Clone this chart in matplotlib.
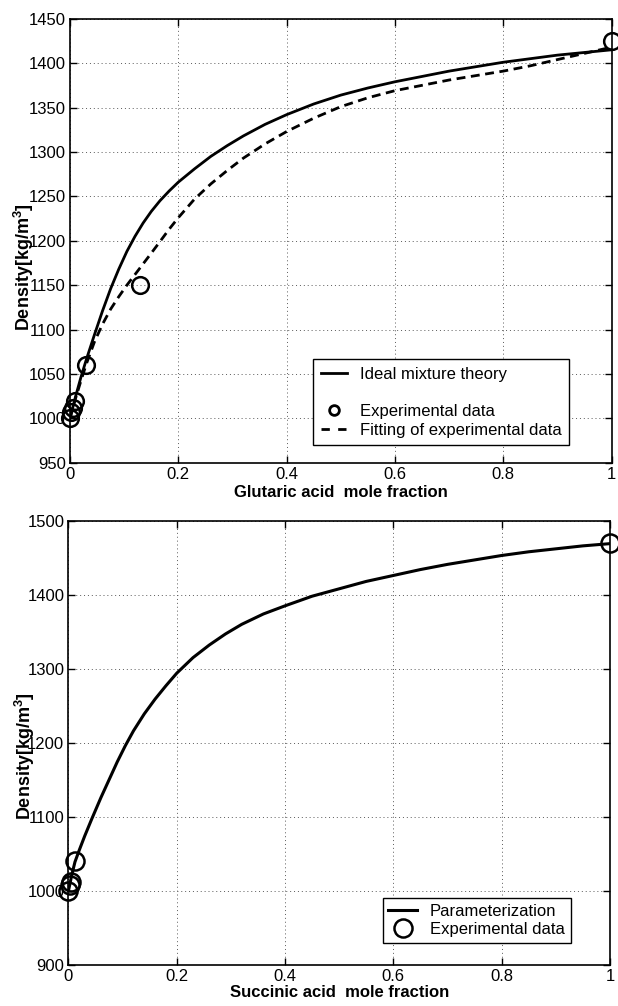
import matplotlib
matplotlib.use("Agg")
import matplotlib.pyplot as plt
from matplotlib.lines import Line2D

plt.rcParams['font.family'] = ['Liberation Sans', 'DejaVu Sans']
plt.rcParams['mathtext.fontset'] = 'custom'
plt.rcParams['mathtext.rm'] = 'Liberation Sans'
plt.rcParams['mathtext.bf'] = 'Liberation Sans:bold'

# --- Glutaric acid (top panel) ---
glut_x_ideal = [0, 0.01, 0.02, 0.03, 0.045, 0.06, 0.075, 0.09, 0.105, 0.12,
                0.135, 0.15, 0.166, 0.183, 0.2, 0.23, 0.26, 0.29, 0.32, 0.36,
                0.4, 0.45, 0.5, 0.55, 0.6, 0.65, 0.7, 0.75, 0.8, 0.85, 0.9,
                0.95, 1.0]
glut_rho_ideal = [1000, 1024, 1046, 1066, 1094, 1121, 1146, 1168, 1188, 1205,
                  1220, 1233, 1245, 1256, 1266, 1281, 1295, 1307, 1318, 1331,
                  1342, 1354, 1364, 1372, 1379, 1385, 1391, 1396, 1401, 1405, 1409,
                  1412, 1415]

glut_x_fit = [0, 0.01, 0.02, 0.03, 0.045, 0.06, 0.075, 0.09, 0.105, 0.12,
              0.135, 0.15, 0.166, 0.183, 0.2, 0.23, 0.26, 0.29, 0.32, 0.36,
              0.4, 0.45, 0.5, 0.55, 0.6, 0.65, 0.7, 0.75, 0.8, 0.85, 0.9,
              0.95, 1.0]
glut_rho_fit = [1000, 1022, 1042, 1061, 1086, 1106, 1123, 1137, 1150, 1162,
                1174, 1186, 1199, 1213, 1226, 1247, 1264, 1279, 1293, 1309,
                1323, 1338, 1351, 1361, 1369, 1375, 1381, 1386, 1391, 1397, 1404,
                1411, 1418]

glut_x_exp = [0, 0.002, 0.005, 0.01, 0.03, 0.13, 1.0]
glut_rho_exp = [1000, 1007, 1012, 1020, 1060, 1150, 1425]

# --- Succinic acid (bottom panel) ---
succ_x_param = [0, 0.006, 0.012, 0.02, 0.03, 0.043, 0.06, 0.075, 0.09, 0.105,
                0.12, 0.14, 0.16, 0.18, 0.2, 0.23, 0.26, 0.29, 0.32, 0.36, 0.4,
                0.45, 0.5, 0.55, 0.6, 0.65, 0.7, 0.75, 0.8, 0.85, 0.9, 0.95, 1.0]
succ_rho_param = [1000, 1021, 1039, 1055, 1074, 1097, 1126, 1150, 1174, 1196,
                  1216, 1239, 1259, 1277, 1294, 1315, 1332, 1347, 1360, 1374, 1385,
                  1398, 1408, 1418, 1426, 1434, 1441, 1447, 1453, 1458, 1462, 1466,
                  1469]

succ_x_exp = [0, 0.002, 0.004, 0.012, 1.0]
succ_rho_exp = [1000, 1008, 1012, 1040, 1470]

xticks = [0, 0.2, 0.4, 0.6, 0.8, 1.0]
xtick_labels = ['0', '0.2', '0.4', '0.6', '0.8', '1']
yticks_top = list(range(950, 1451, 50))
yticks_bot = list(range(900, 1501, 100))

ylabel = r'Density[kg/m$^{\mathbf{3}}$]'

fig = plt.figure(figsize=(6.18, 10.06), dpi=100)
ax1 = fig.add_axes([0.1133, 0.540, 0.8765, 0.4414])
ax2 = fig.add_axes([0.1108, 0.041, 0.8762, 0.4414])


def style_axes(ax, yticks):
    ax.set_xlim(0, 1)
    ax.set_ylim(yticks[0], yticks[-1])
    ax.set_xticks(xticks)
    ax.set_xticklabels(xtick_labels)
    ax.set_yticks(yticks)
    ax.tick_params(direction='in', top=True, right=True, labelsize=12,
                   length=5, width=1, pad=3)
    ax.grid(True, color='0.35', linestyle=(0, (1, 3)), linewidth=0.7)
    for s in ax.spines.values():
        s.set_linewidth(1.2)


# top panel
ax1.plot(glut_x_ideal, glut_rho_ideal, '-', color='black', lw=2.0)
ax1.plot(glut_x_exp, glut_rho_exp, 'o', mfc='none', mec='black', ms=12,
         mew=1.8, clip_on=False, zorder=5)
ax1.plot(glut_x_fit, glut_rho_fit, color='black', lw=2.0, dashes=(3.2, 2.0))
style_axes(ax1, yticks_top)
ax1.set_xlabel('Glutaric acid  mole fraction', fontsize=12, fontweight='bold',
               labelpad=2)
ax1.set_ylabel(ylabel, fontsize=13, fontweight='bold')
ax1.yaxis.set_label_coords(-0.062, 0.44)

h_ideal = Line2D([], [], color='black', lw=2.0)
h_blank = Line2D([], [], color='none')
h_exp = Line2D([], [], marker='o', ls='none', mfc='none', mec='black', ms=7, mew=2)
h_fit = Line2D([], [], color='black', lw=2.0, dashes=(3, 3))
leg1 = ax1.legend([h_ideal, h_blank, h_exp, h_fit],
                  ['Ideal mixture theory', ' ', 'Experimental data',
                   'Fitting of experimental data'],
                  loc='upper left', bbox_to_anchor=(0.449, 0.233),
                  fontsize=12, handlelength=1.6, handletextpad=0.75,
                  labelspacing=0.22, borderpad=0.45, borderaxespad=0,
                  fancybox=False, framealpha=1, edgecolor='black')
leg1.get_frame().set_linewidth(1.0)

# bottom panel
ax2.plot(succ_x_param, succ_rho_param, '-', color='black', lw=2.2)
ax2.plot(succ_x_exp, succ_rho_exp, 'o', mfc='none', mec='black', ms=13,
         mew=1.8, clip_on=False, zorder=5)
style_axes(ax2, yticks_bot)
ax2.set_xlabel('Succinic acid  mole fraction', fontsize=12, fontweight='bold',
               labelpad=1)
ax2.set_ylabel(ylabel, fontsize=13, fontweight='bold')
ax2.yaxis.set_label_coords(-0.059, 0.47)

h_par = Line2D([], [], color='black', lw=2.2)
h_exp2 = Line2D([], [], marker='o', ls='none', mfc='none', mec='black', ms=13, mew=1.8)
leg2 = ax2.legend([h_par, h_exp2], ['Parameterization', 'Experimental data'],
                  loc='upper left', bbox_to_anchor=(0.58, 0.1495),
                  fontsize=12, handlelength=1.7, handletextpad=0.8,
                  labelspacing=0.15, borderpad=0.35, borderaxespad=0,
                  fancybox=False, framealpha=1, edgecolor='black')
leg2.get_frame().set_linewidth(1.0)

fig.savefig('out.png', dpi=100)
